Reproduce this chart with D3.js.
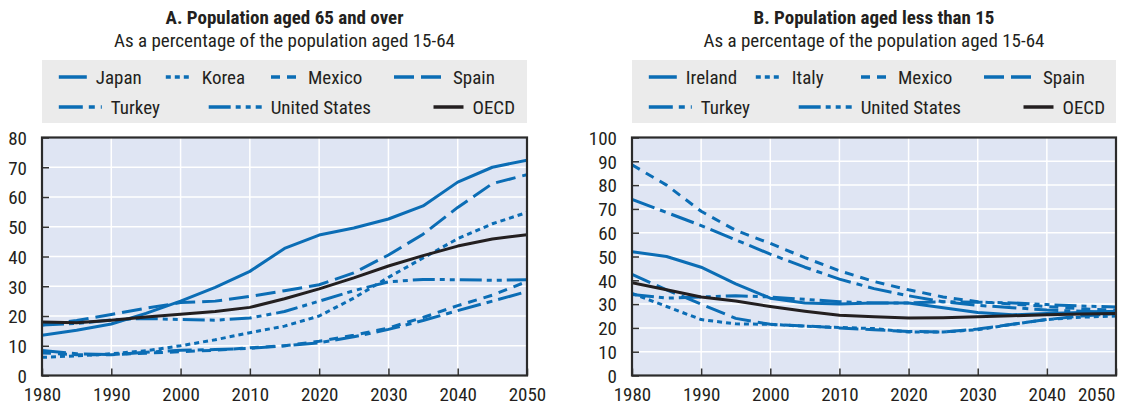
<!DOCTYPE html>
<html>
<head>
<meta charset="utf-8">
<script src="https://cdn.jsdelivr.net/npm/d3@7/dist/d3.min.js"></script>
<style>
  html, body { margin: 0; padding: 0; background: #fff; }
  svg text { font-family: "Liberation Sans Narrow", "Arial Narrow", "Roboto Condensed", Roboto, sans-serif; fill: #231f20; }
</style>
</head>
<body>
<svg id="chart" width="1125" height="407"></svg>
<script>
// ---------- DATA ----------
const years = [1980,1985,1990,1995,2000,2005,2010,2015,2020,2025,2030,2035,2040,2045,2050];
const xTicks = [1980,1990,2000,2010,2020,2030,2040,2050];

// Panel A: population aged 65+ as % of 15-64
const titleA = "A. Population aged 65 and over";
const subtitle = "As a percentage of the population aged 15-64";
const yTicksA = [0,10,20,30,40,50,60,70,80];
const aJapan  = [13.5,15.2,17.3,20.9,25.0,29.6,35.0,42.7,47.2,49.6,52.6,57.0,65.0,70.0,72.4];
const aKorea  = [6.1,6.6,7.3,8.3,10.0,12.0,14.4,16.6,20.0,26.0,33.0,39.5,46.0,51.0,54.8];
const aMexico = [7.6,7.0,7.0,7.5,8.0,8.5,9.3,10.0,11.5,13.5,16.0,19.5,23.5,27.0,31.6];
const aSpain  = [17.0,18.5,20.5,22.6,24.5,25.0,26.6,28.5,30.5,34.5,40.5,47.5,56.5,64.5,67.5];
const aTurkey = [8.4,7.3,7.0,7.8,8.5,8.7,9.1,10.0,11.0,13.0,15.5,18.5,21.8,25.0,28.2];
const aUS     = [17.0,17.5,18.7,19.2,18.8,18.6,19.3,21.5,25.0,28.5,31.5,32.3,32.2,32.0,32.2];
const aOECD   = [18.0,17.7,18.6,19.7,20.6,21.5,22.9,25.8,29.1,32.8,36.8,40.3,43.5,45.9,47.3];

// Panel B: population aged <15 as % of 15-64
const titleB = "B. Population aged less than 15";
const yTicksB = [0,10,20,30,40,50,60,70,80,90,100];
const bIreland = [52.0,50.0,45.5,38.5,32.5,30.5,30.0,30.5,30.5,28.5,26.5,25.5,26.0,26.5,27.0];
const bItaly   = [34.5,29.0,23.5,21.7,21.5,20.7,20.2,19.7,18.3,18.3,19.2,21.5,23.5,24.5,25.0];
const bMexico  = [88.5,80.0,69.0,61.0,55.5,49.5,44.0,39.5,36.0,33.0,31.0,30.0,29.0,28.0,27.5];
const bSpain   = [42.5,36.0,30.0,24.0,21.5,20.8,20.0,19.2,18.5,18.3,19.5,21.5,23.5,25.0,26.0];
const bTurkey  = [74.0,68.5,63.0,57.0,51.0,45.5,40.5,36.5,33.5,31.0,29.5,28.5,27.5,27.0,26.5];
const bUS      = [34.0,32.5,33.0,33.5,33.0,32.0,31.0,30.5,30.5,31.0,30.8,30.5,29.8,29.2,28.8];
const bOECD    = [39.0,36.0,33.0,31.3,29.0,27.0,25.3,24.7,24.2,24.3,24.7,25.1,25.5,25.8,26.1];

const legendA = ["Japan","Korea","Mexico","Spain","Turkey","United States","OECD"];
const legendB = ["Ireland","Italy","Mexico","Spain","Turkey","United States","OECD"];

// ---------- STYLES ----------
const BLUE = "#0b6db5", BLACK = "#231f20";
const dash = {
  solid: null,
  dot: "5,4",
  dash: "9,7",
  long: "20,7",
  dashdot: "24,6,6,6",
  dashdotdot: "22,5,5,5,5,5"
};

const svg = d3.select("#chart");
const FS = 19;

function panel(cfg) {
  const {x0, x1, yDomain, yTicks, title, series, legendNames, lastLabelEnd} = cfg;
  const yTop = 137.5, yBot = 375.5;
  const x = d3.scaleLinear().domain([1980, 2050]).range([x0, x1]);
  const y = d3.scaleLinear().domain(yDomain).range([yBot, yTop]);
  const cx = (x0 + x1) / 2;
  const g = svg.append("g");

  // titles
  g.append("text").attr("x", cx).attr("y", 24).attr("text-anchor", "middle")
    .style("font-weight", "bold").style("font-size", FS + "px").text(title);
  g.append("text").attr("x", cx).attr("y", 47).attr("text-anchor", "middle")
    .style("font-size", FS + "px").text(subtitle);

  // legend box
  g.append("rect").attr("x", x0).attr("y", 60).attr("width", x1 - x0).attr("height", 63).attr("fill", "#ebebeb");
  const legPos = [
    {dx: 16.8, row: 0, len: 28}, {dx: 123.8, row: 0, len: 27}, {dx: 229, row: 0, len: 28}, {dx: 352, row: 0, len: 50},
    {dx: 16.8, row: 1, len: 43}, {dx: 166.7, row: 1, len: 53}, {dx: 391.5, row: 1, len: 30}
  ];
  series.forEach((s, i) => {
    const p = legPos[i];
    const ly = p.row === 0 ? 77 : 107;
    g.append("line").attr("x1", x0 + p.dx).attr("x2", x0 + p.dx + p.len).attr("y1", ly).attr("y2", ly)
      .attr("stroke", s.color).attr("stroke-width", 3.5).attr("stroke-dasharray", s.dash);
    g.append("text").attr("x", x0 + p.dx + p.len + 9).attr("y", ly + 7).style("font-size", FS + "px").text(legendNames[i]);
  });

  // plot bg
  g.append("rect").attr("x", x0).attr("y", yTop).attr("width", x1 - x0).attr("height", yBot - yTop).attr("fill", "#dfe5f3");
  // grid
  g.selectAll(".gy").data(yTicks.slice(1, -1)).join("line")
    .attr("x1", x0).attr("x2", x1).attr("y1", d => y(d)).attr("y2", d => y(d))
    .attr("stroke", "#fff").attr("stroke-width", 1.5);
  g.selectAll(".gx").data(xTicks.slice(1, -1)).join("line")
    .attr("x1", d => x(d)).attr("x2", d => x(d)).attr("y1", yTop).attr("y2", yBot)
    .attr("stroke", "#fff").attr("stroke-width", 1.5);

  // clip
  const clipId = "clip" + Math.round(x0);
  svg.append("clipPath").attr("id", clipId).append("rect")
    .attr("x", x0).attr("y", yTop).attr("width", x1 - x0).attr("height", yBot - yTop);

  const line = d3.line().x((d, i) => x(years[i])).y(d => y(d));
  const lg = g.append("g").attr("clip-path", `url(#${clipId})`);
  series.forEach(s => {
    lg.append("path").attr("d", line(s.values)).attr("fill", "none")
      .attr("stroke", s.color).attr("stroke-width", 3)
      .attr("stroke-dasharray", s.dash).attr("stroke-linejoin", "round");
  });

  // axes with inward ticks
  const yAxis = d3.axisLeft(y).tickValues(yTicks).tickSize(-7).tickPadding(15).tickFormat(d3.format("d"));
  const ya = g.append("g").attr("transform", `translate(${x0},0)`).call(yAxis);
  ya.select(".domain").remove();
  ya.selectAll(".tick line").attr("stroke", "#333").attr("stroke-width", 1.5);
  ya.selectAll(".tick text").style("font-size", FS + "px").attr("fill", BLACK).attr("dy", "0.36em");

  const xAxis = d3.axisBottom(x).tickValues(xTicks).tickSize(-7).tickPadding(12).tickFormat(d3.format("d"));
  const xa = g.append("g").attr("transform", `translate(0,${yBot})`).call(xAxis);
  xa.select(".domain").remove();
  xa.selectAll(".tick line").attr("stroke", "#333").attr("stroke-width", 1.5);
  xa.selectAll(".tick text").style("font-size", FS + "px").attr("fill", BLACK).attr("dy", "0.71em");
  if (lastLabelEnd) {
    xa.selectAll(".tick text").filter(d => d === 2050).attr("text-anchor", "end").attr("dx", -1);
  }

  // frame
  g.append("rect").attr("x", x0).attr("y", yTop).attr("width", x1 - x0).attr("height", yBot - yTop)
    .attr("fill", "none").attr("stroke", "#2b2b2b").attr("stroke-width", 2.2);
}

panel({
  x0: 42, x1: 527, yDomain: [0, 80], yTicks: yTicksA, title: titleA, legendNames: legendA,
  series: [
    {values: aJapan, color: BLUE, dash: dash.solid},
    {values: aKorea, color: BLUE, dash: dash.dot},
    {values: aMexico, color: BLUE, dash: dash.dash},
    {values: aSpain, color: BLUE, dash: dash.long},
    {values: aTurkey, color: BLUE, dash: dash.dashdot},
    {values: aUS, color: BLUE, dash: dash.dashdotdot},
    {values: aOECD, color: BLACK, dash: dash.solid}
  ]
});

panel({
  x0: 632, x1: 1116, yDomain: [0, 100], yTicks: yTicksB, title: titleB, legendNames: legendB, lastLabelEnd: true,
  series: [
    {values: bIreland, color: BLUE, dash: dash.solid},
    {values: bItaly, color: BLUE, dash: dash.dot},
    {values: bMexico, color: BLUE, dash: dash.dash},
    {values: bSpain, color: BLUE, dash: dash.long},
    {values: bTurkey, color: BLUE, dash: dash.dashdot},
    {values: bUS, color: BLUE, dash: dash.dashdotdot},
    {values: bOECD, color: BLACK, dash: dash.solid}
  ]
});
</script>
</body>
</html>
